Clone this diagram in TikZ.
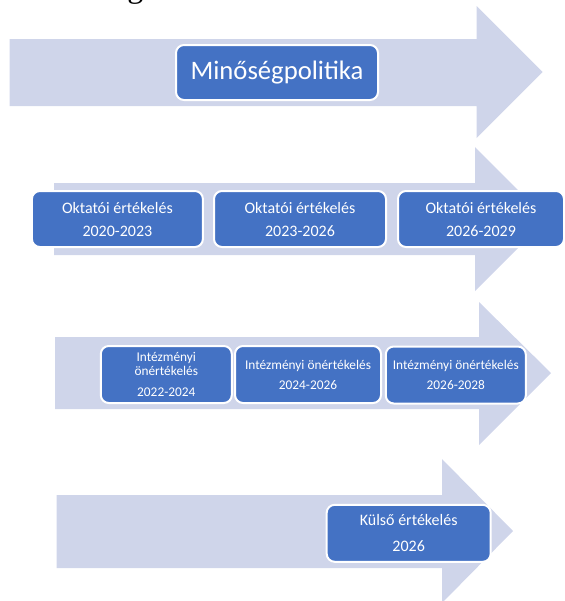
\documentclass[tikz,border=0pt]{standalone}
\usepackage{fontspec}
\setmainfont{Carlito}
\newfontfamily\headfont{Liberation Serif}
\usepackage{xcolor}
\definecolor{bandblue}{HTML}{CFD5EA}
\definecolor{boxblue}{HTML}{4472C4}

\begin{document}
\begin{tikzpicture}[x=0.75pt, y=-0.75pt, line join=round,
  band/.style={fill=bandblue},
  stage/.style={draw=white, line width=1.5pt, fill=boxblue, rounded corners=6pt,
    text=white, align=center, inner sep=0pt}]
  \useasboundingbox (0,0) rectangle (565,601);
  \node[anchor=base west, inner sep=0pt, font=\headfont\fontsize{24}{28}\selectfont] (head) at (127,-2.5) {g};
  % arrows
  \fill[band] (9.7,39) -- (476.7,39) -- (476.7,6) -- (542.7,72) -- (476.7,138) -- (476.7,106) -- (9.7,106) -- cycle;
  \fill[band] (54,183) -- (475,183) -- (475,147) -- (547,219) -- (475,291) -- (475,255) -- (54,255) -- cycle;
  \fill[band] (55,337) -- (479,337) -- (479,302) -- (551,373) -- (479,445) -- (479,409) -- (55,409) -- cycle;
  \fill[band] (56.6,495) -- (442,495) -- (442,459) -- (513,531) -- (442,603) -- (442,568) -- (56.6,568) -- cycle;
  % stages
  \node[stage, minimum width=151.5pt, minimum height=41.25pt, font=\fontsize{20}{24}\selectfont] (mp) at (277,72.5) {Minőségpolitika};
  \node[stage, minimum width=128.25pt, minimum height=42pt, font=\fontsize{12}{17.25}\selectfont] (okt1) at (117.4,219) {Oktatói értékelés\\2020-2023};
  \node[stage, minimum width=129pt, minimum height=42pt, font=\fontsize{12}{17.25}\selectfont] (okt2) at (300,219) {Oktatói értékelés\\2023-2026};
  \node[stage, minimum width=124.5pt, minimum height=42pt, font=\fontsize{12}{17.25}\selectfont] (okt3) at (481,219) {Oktatói értékelés\\2026-2029};
  \node[stage, minimum width=98.25pt, minimum height=42.75pt, font=\fontsize{10}{10.5}\selectfont] (int1) at (166.3,374.5) {Intézményi\\önértékelés\\[5.25pt]2022-2024};
  \node[stage, minimum width=109.5pt, minimum height=42.75pt, font=\fontsize{10}{15}\selectfont] (int2) at (308,374.5) {Intézményi önértékelés\\2024-2026};
  \node[stage, minimum width=105pt, minimum height=42.75pt, font=\fontsize{10}{15}\selectfont] (int3) at (455.8,375) {Intézményi önértékelés\\2026-2028};
  \node[stage, minimum width=123pt, minimum height=42.75pt, font=\fontsize{12}{19.25}\selectfont] (kulso) at (408.7,533.3) {Külső értékelés\\2026};
\end{tikzpicture}
\end{document}
